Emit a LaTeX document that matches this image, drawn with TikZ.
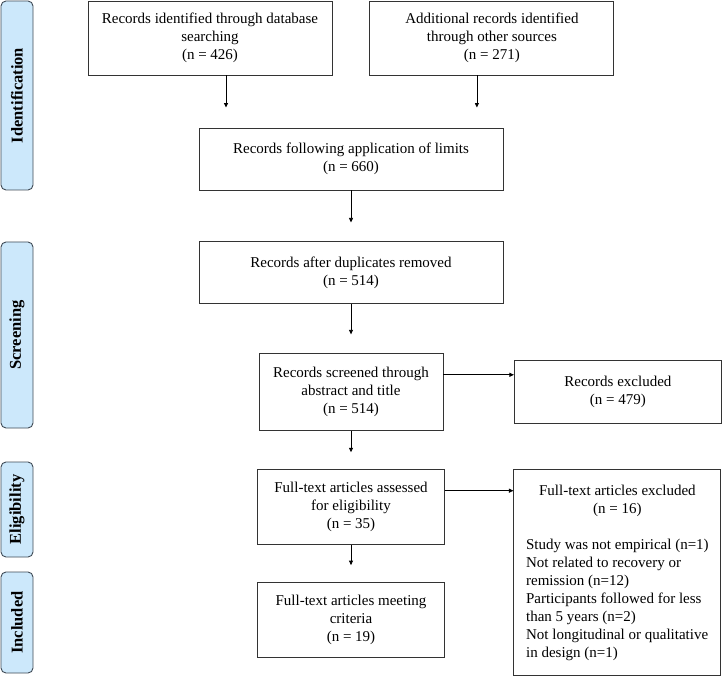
\documentclass[tikz,border=0pt]{standalone}
\usepackage{fontspec}
\setmainfont{Liberation Serif}
\usepackage{xcolor}
\definecolor{PhaseBlue}{HTML}{CCE8FB}
\definecolor{PhaseLine}{HTML}{3F4A55}
\definecolor{BoxLine}{HTML}{333333}
\usetikzlibrary{arrows.meta, positioning}
\tikzset{
  % Box styles
  flowbox/.style={rectangle, draw=BoxLine, line width=0.9pt, fill=white, align=center, inner sep=4pt, font=\fontsize{15}{18}\selectfont},
  phasebox/.style={rectangle, rounded corners=5pt, draw=PhaseLine, line width=0.9pt, fill=PhaseBlue, rotate=90, minimum height=32pt, inner sep=0pt, font=\fontsize{16.5}{19}\selectfont\bfseries},
  % Arrow styles
  flowarrow/.style={-{Triangle[length=4.5pt,width=4pt]}, line width=0.8pt, black}
}

\begin{document}
\begin{tikzpicture}[x=1pt, y=-1pt]
  \useasboundingbox (0,0) rectangle (722,676);

  % Phase labels
  \node[phasebox, minimum width=189pt] (idlabel) at (17,95.5) {Identification};
  \node[phasebox, minimum width=186pt] (sclabel) at (17,335) {Screening};
  \node[phasebox, minimum width=95pt] (ellabel) at (17,509.5) {Eligibility};
  \node[phasebox, minimum width=101pt] (inlabel) at (17,622.5) {Included};

  % Identification boxes
  \node[flowbox, minimum width=244pt, minimum height=74pt] (b1) at (210,38) {Records identified through database\\searching\\(n = 426)};
  \node[flowbox, minimum width=244pt, minimum height=74pt, right=37pt of b1] (b2) {Additional records identified\\through other sources\\(n = 271)};
  \node[flowbox, minimum width=304pt, minimum height=62pt] (b3) at (351,159) {Records following application of limits\\(n = 660)};

  % Screening boxes
  \node[flowbox, minimum width=304pt, minimum height=62pt, below=51pt of b3] (b4) {Records after duplicates removed\\(n = 514)};
  \node[flowbox, minimum width=184pt, minimum height=77pt, below=49pt of b4] (b5) {Records screened through\\abstract and title\\(n = 514)};
  \node[flowbox, minimum width=207pt, minimum height=63pt, right=70.5pt of b5] (e1) {Records excluded\\(n = 479)};

  % Eligibility and included boxes
  \node[flowbox, minimum width=187pt, minimum height=75pt, below=38pt of b5] (b6) {Full-text articles assessed\\for eligibility\\(n = 35)};
  \node[flowbox, minimum width=207pt, minimum height=206pt, right=68.5pt of b6.north east, anchor=north west] (e2) {%
    \begin{tabular}{@{}l@{}}
      \multicolumn{1}{@{}c@{}}{Full-text articles excluded}\\
      \multicolumn{1}{@{}c@{}}{(n = 16)}\\[18pt]
      Study was not empirical (n=1)\\
      Not related to recovery or\\
      remission (n=12)\\
      Participants followed for less\\
      than 5 years (n=2)\\
      Not longitudinal or qualitative\\
      in design (n=1)
    \end{tabular}};
  \node[flowbox, minimum width=187pt, minimum height=75pt, below=37pt of b6] (b7) {Full-text articles meeting\\criteria\\(n = 19)};

  % Arrows
  \coordinate (a1) at ([xshift=16pt]b1.south);
  \coordinate (a2) at ([xshift=-15pt]b2.south);
  \draw[flowarrow, shorten >=20pt] (a1) -- (a1 |- b3.north);
  \draw[flowarrow, shorten >=20pt] (a2) -- (a2 |- b3.north);
  \draw[flowarrow, shorten >=19pt] (b3.south) -- (b4.north);
  \draw[flowarrow, shorten >=19pt] (b4.south) -- (b5.north);
  \draw[flowarrow, shorten >=17pt] (b5.south) -- (b6.north);
  \draw[flowarrow, shorten >=17pt] (b6.south) -- (b7.north);

  \coordinate (s1) at ([yshift=17.5pt]b5.east);
  \coordinate (s2) at ([yshift=16.5pt]b6.east);
  \draw[flowarrow] (s1) -- (s1 -| e1.west);
  \draw[flowarrow] (s2) -- (s2 -| e2.west);
\end{tikzpicture}
\end{document}
